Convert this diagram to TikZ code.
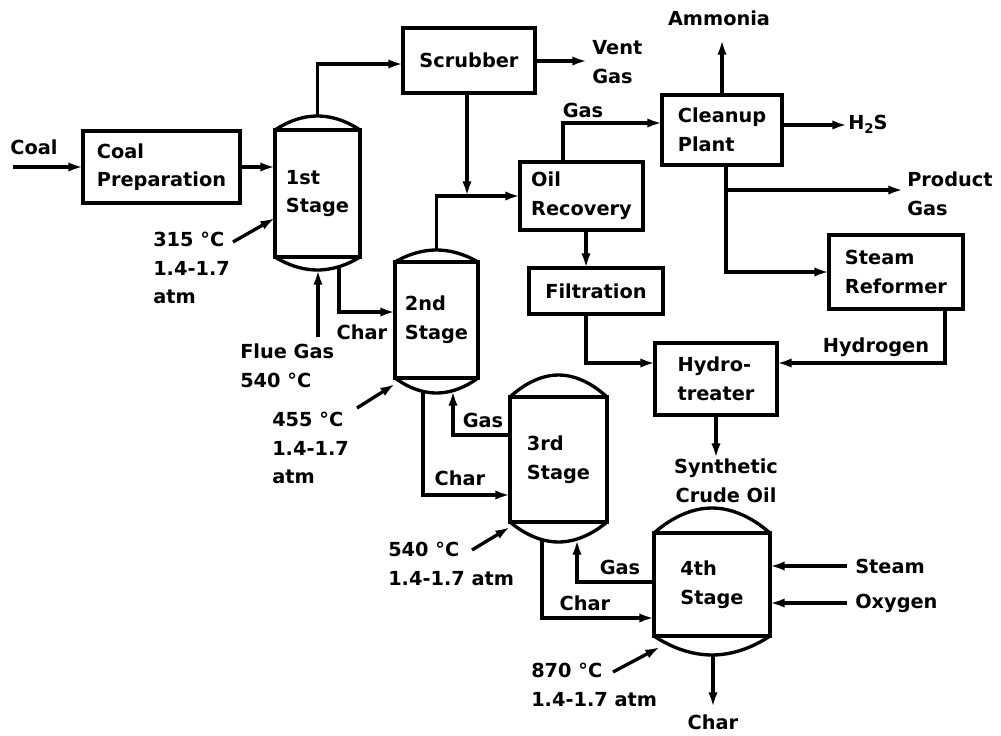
\documentclass[tikz,border=0pt]{standalone}
\usepackage{fontspec}
\setmainfont{DejaVu Sans}
\usetikzlibrary{arrows.meta}
\newcommand\unitbox[6]{\node[unit, minimum width={(#4-#2)*0.75pt}, minimum height={(#5-#3)*0.75pt}] (#1) at ({(#2+#4)/2},{(#3+#5)/2}) {#6};}
\newcommand\vbody[6]{\node[unit, minimum width={(#3-#2)*0.75pt}, minimum height={(#5-#4)*0.75pt}] (#1) at ({(#2+#3)/2},{(#4+#5)/2}) {#6};}
\newcommand\vdomes[6]{%
  \fill[white] (#1,#4) parabola bend ({(#1+#2)/2},#3) (#2,#4) -- cycle;
  \fill[white] (#1,#5) parabola bend ({(#1+#2)/2},#6) (#2,#5) -- cycle;
  \draw[line, line cap=round] (#1,#4) parabola bend ({(#1+#2)/2},#3) (#2,#4);
  \draw[line, line cap=round] (#1,#5) parabola bend ({(#1+#2)/2},#6) (#2,#5);
  \draw[line] (#1,#4) -- (#2,#4) (#1,#5) -- (#2,#5);}
\begin{document}
\begin{tikzpicture}[x=0.75pt,y=-0.75pt,
  every node/.style={font=\bfseries\fontsize{14.5}{21.5}\selectfont},
  line/.style={line width=2.5pt, line join=miter},
  flow/.style={line, -{Latex[length=11pt,width=7pt]}},
  unit/.style={draw, line width=2.5pt, inner sep=0pt, outer sep=0pt, align=left},
  lbl/.style={inner sep=0pt, align=left},
]
\useasboundingbox (0,0) rectangle (1001,736);

% vessel bodies
\vbody{s1}{275}{360}{130}{257}{1st\\Stage}
\vbody{s2}{395}{478}{262}{378}{2nd\\Stage}
\vbody{s3}{510}{607}{397}{522}{3rd\\Stage}
\vbody{s4}{654}{770}{533}{636}{4th\\Stage}

% boxes
\unitbox{prep}{83}{131}{240}{203}{Coal\\Preparation}
\unitbox{scrub}{403}{28}{535}{93}{Scrubber}
\unitbox{oil}{520}{162}{643}{230}{Oil\\Recovery}
\unitbox{clean}{662}{95}{782}{165}{Cleanup\\Plant}
\unitbox{reform}{829}{235}{963}{309}{Steam\\Reformer}
\unitbox{filt}{529}{268}{663}{314}{Filtration}
\unitbox{hydro}{655}{343}{777}{415}{Hydro-\\treater}

% labels
\node[lbl] (lcoal) at (34,147) {Coal};
\node[lbl] (lamm) at (719,18) {Ammonia};
\node[lbl, anchor=west] (lh2s) at (848,124) {H\raisebox{-0.4ex}{\fontsize{10}{10}\selectfont 2}S};
\node[lbl, anchor=west] (lprod) at (907,194) {Product\\Gas};
\node[lbl, anchor=west] (lvent) at (592,62) {Vent\\Gas};
\node[lbl] (lgas1) at (583,110) {Gas};
\node[lbl] (lhyd) at (876,347) {Hydrogen};
\node[lbl, align=center] (lsco) at (726,481) {Synthetic\\Crude Oil};
\node[lbl, anchor=west] (lsteam) at (855,566) {Steam};
\node[lbl, anchor=west] (loxy) at (855,603) {Oxygen};
\node[lbl, anchor=west] (lt1) at (153,268) {315 °C\\1.4-1.7\\atm};
\node[lbl, anchor=west] (lflue) at (240,366) {Flue Gas\\540 °C};
\node[lbl] (lchar1) at (362,332) {Char};
\node[lbl, anchor=west] (lt2) at (272,448) {455 °C\\1.4-1.7\\atm};
\node[lbl] (lgas3) at (483,420) {Gas};
\node[lbl] (lchar2) at (460,478) {Char};
\node[lbl, anchor=west] (lt3) at (388,564) {540 °C\\1.4-1.7 atm};
\node[lbl] (lgas4) at (620,567) {Gas};
\node[lbl] (lchar3) at (585,603) {Char};
\node[lbl, anchor=west] (lt4) at (531,685) {870 °C\\1.4-1.7 atm};
\node[lbl] (lchar4) at (713,722) {Char};

% coordinates
\coordinate (coalin) at (13,167);
\coordinate (t1) at (317.5,64);
\coordinate (s1top) at (317.5,116);
\coordinate (vg) at (587,61);
\coordinate (j1) at (467,196);
\coordinate (t2) at (436.5,196);
\coordinate (s2top) at (436.5,250);
\coordinate (g1) at (563,123);
\coordinate (amm) at (722,40);
\coordinate (h2s) at (847,125);
\coordinate (c1) at (726,272);
\coordinate (pg) at (903,190);
\coordinate (xa) at (586,250);
\coordinate (h1) at (586,363);
\coordinate (h2) at (945,363);
\coordinate (sco) at (716,458);
\coordinate (ch1) at (339,312);
\coordinate (ch1s) at (339,257);
\coordinate (flue) at (318,337);
\coordinate (flueE) at (318,270);
\coordinate (c2s) at (423,378);
\coordinate (c2) at (423,495);
\coordinate (g3) at (453,435);
\coordinate (g3e) at (453,391);
\coordinate (c3s) at (542,522);
\coordinate (c3) at (542,618);
\coordinate (g4) at (577,582);
\coordinate (g4e) at (577,540);
\coordinate (st) at (847,566);
\coordinate (ox) at (847,603);
\coordinate (ch4s) at (713,655);
\coordinate (ch4) at (713,707);
\coordinate (a1s) at (233,242);
\coordinate (a1e) at (275,218);
\coordinate (a2s) at (357,408);
\coordinate (a2e) at (395,384);
\coordinate (a3s) at (472,550);
\coordinate (a3e) at (510,527);
\coordinate (a4s) at (613,672);
\coordinate (a4e) at (660,647);

% connectors
\draw[flow] (coalin) -- (coalin -| prep.west);
\draw[flow] (prep.east) -- (prep.east -| s1.west);
\draw[flow] (s1top) -- (t1) -- (t1 -| scrub.west);
\draw[flow] (vg -| scrub.east) -- (vg);
\draw[flow] (scrub.south -| j1) -- (j1);
\draw[flow] (s2top) -- (t2) -- (t2 -| oil.west);
\draw[flow] (oil.north -| g1) -- (g1) -- (g1 -| clean.west);
\draw[flow] (clean.north -| amm) -- (amm);
\draw[flow] (h2s -| clean.east) -- (h2s);
\draw[flow] (clean.south -| c1) -- (c1) -- (c1 -| reform.west);
\draw[flow] (pg -| c1) -- (pg);
\draw[flow] (oil.south -| xa) -- (filt.north -| xa);
\draw[flow] (filt.south -| h1) -- (h1) -- (h1 -| hydro.west);
\draw[flow] (reform.south -| h2) -- (h2) -- (h2 -| hydro.east);
\draw[flow] (hydro.south -| sco) -- (sco);
\draw[flow] (ch1s) -- (ch1) -- (ch1 -| s2.west);
\draw[flow] (flue) -- (flueE);
\draw[flow] (c2s) -- (c2) -- (c2 -| s3.west);
\draw[flow] (g3 -| s3.west) -- (g3) -- (g3e);
\draw[flow] (c3s) -- (c3) -- (c3 -| s4.west);
\draw[flow] (g4 -| s4.west) -- (g4) -- (g4e);
\draw[flow] (st) -- (st -| s4.east);
\draw[flow] (ox) -- (ox -| s4.east);
\draw[flow] (ch4s) -- (ch4);
\draw[flow] (a1s) -- (a1e);
\draw[flow] (a2s) -- (a2e);
\draw[flow] (a3s) -- (a3e);
\draw[flow] (a4s) -- (a4e);

% vessel domes
\vdomes{275}{360}{116}{130}{257}{270}
\vdomes{395}{478}{250}{262}{378}{393}
\vdomes{510}{607}{375}{397}{522}{542}
\vdomes{654}{770}{508}{533}{636}{655}
\end{tikzpicture}
\end{document}
